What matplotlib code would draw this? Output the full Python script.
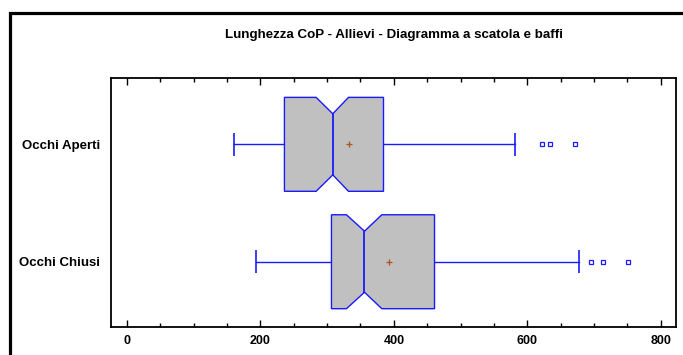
import matplotlib.pyplot as plt
from matplotlib.patches import Rectangle, Polygon

# dati
gruppi = ['Occhi Chiusi', 'Occhi Aperti']
posizioni = [1, 2]
minimi = [194, 161]
q1 = [306.5, 236]
notch_basso = [329, 283.5]
mediane = [356, 308.5]
notch_alto = [382, 332]
q3 = [461, 384.5]
massimi = [678, 582]
medie = [393.5, 333.5]
anomali = [[695.5, 713.5, 751], [622.5, 633.5, 671.5]]

xticks = [0, 200, 400, 600, 800]
titolo = 'Lunghezza CoP - Allievi - Diagramma a scatola e baffi'

plt.rcParams['font.family'] = ['Liberation Sans', 'DejaVu Sans']

stats = []
for i in range(len(gruppi)):
    stats.append({
        'label': gruppi[i],
        'whislo': minimi[i], 'q1': q1[i], 'med': mediane[i], 'q3': q3[i],
        'whishi': massimi[i], 'mean': medie[i], 'fliers': anomali[i],
    })

blu = '#1a1aff'
fig = plt.figure(figsize=(6.83, 3.55), dpi=100)
ax = fig.add_axes([111 / 683, 28 / 355, 565 / 683, 249 / 355])

# baffi, medie e valori anomali
ax.bxp(stats, positions=posizioni, widths=0.8, orientation='horizontal',
       showbox=False, showmeans=True, showcaps=False,
       medianprops=dict(linewidth=0),
       whiskerprops=dict(color=blu, linewidth=1.0),
       meanprops=dict(marker='+', markeredgecolor='#b0501a',
                      markersize=5, markeredgewidth=0.9, zorder=5),
       flierprops=dict(marker='s', markerfacecolor='none',
                       markeredgecolor=blu, markersize=3.5,
                       markeredgewidth=0.9))

# scatole con intaglio
h = 0.4   # mezza altezza della scatola
n = 0.26  # mezza altezza alla mediana
for i, p in enumerate(posizioni):
    pts = [(q1[i], p - h), (notch_basso[i], p - h), (mediane[i], p - n),
           (notch_alto[i], p - h), (q3[i], p - h), (q3[i], p + h),
           (notch_alto[i], p + h), (mediane[i], p + n),
           (notch_basso[i], p + h), (q1[i], p + h)]
    ax.add_patch(Polygon(pts, closed=True, facecolor='#c0c0c0',
                         edgecolor=blu, linewidth=1.0, zorder=3))
    ax.plot([mediane[i], mediane[i]], [p - n, p + n], color=blu,
            linewidth=1.3, zorder=4)
    ax.vlines([minimi[i], massimi[i]], p - 0.1, p + 0.1, color=blu,
              linewidth=1.2)

ax.set_xlim(-24, 823)
ax.set_ylim(0.444, 2.565)
ax.set_xticks(xticks)
ax.set_xticks(range(0, 801, 50), minor=True)
ax.set_xticklabels([str(t) for t in xticks], fontweight='bold', fontsize=9)
ax.set_yticks(posizioni)
ax.set_yticklabels(gruppi, fontweight='bold', fontsize=9.5)
ax.tick_params(axis='x', which='major', direction='in', length=5,
               top=True, width=1, pad=6)
ax.tick_params(axis='x', which='minor', direction='in', length=3,
               top=True, width=1)
ax.tick_params(axis='y', length=0, pad=8)
for s in ax.spines.values():
    s.set_linewidth(1.3)

fig.text(0.577, 0.901, titolo, ha='center', va='center',
         fontweight='bold', fontsize=9.6)

# cornice esterna
fig.patches.append(Rectangle((9.5 / 683, -0.2), 1.2, 1.2 - 12.5 / 355,
                             transform=fig.transFigure, fill=False,
                             edgecolor='black', linewidth=2.3))

fig.savefig('out.png', dpi=100)
